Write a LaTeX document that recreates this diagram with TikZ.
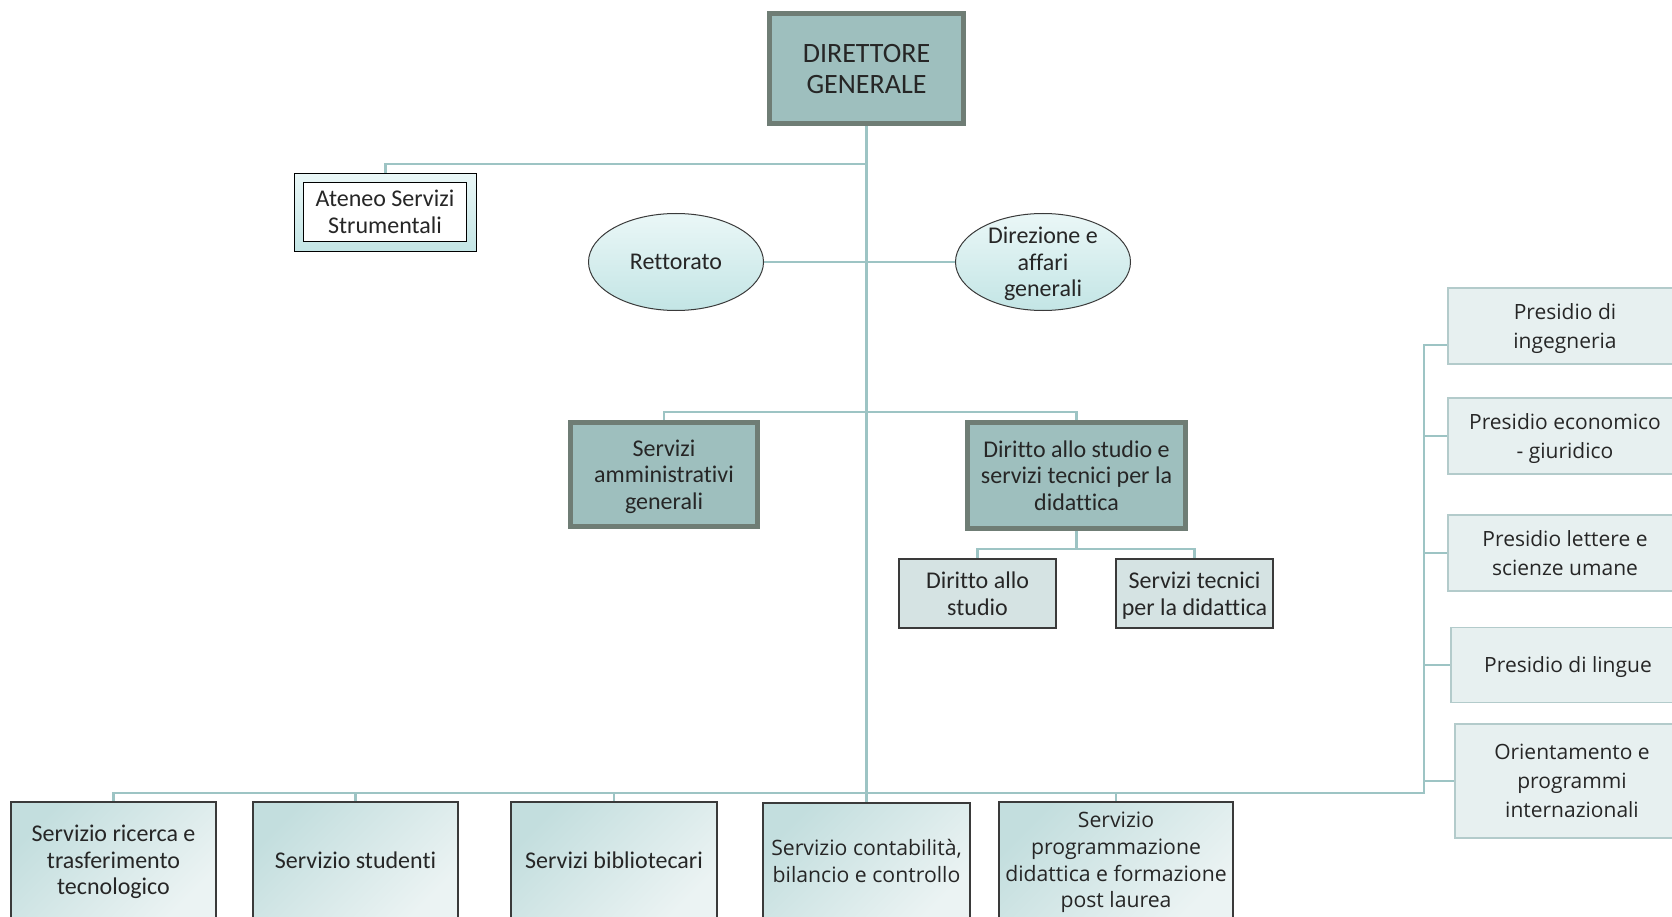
\documentclass[tikz,border=0pt]{standalone}
\usepackage{fontspec}
\setmainfont{Carlito}[Ligatures=NoCommon]
\newfontfamily\segoe{Open Sans}
\usepackage{tikz}
\usetikzlibrary{calc,shapes.geometric,backgrounds}

\definecolor{linea}{HTML}{9DC4C4}
\definecolor{verdecapo}{HTML}{9EBFBE}
\definecolor{bordo}{HTML}{6F7D75}
\definecolor{scuro}{HTML}{3A3A3A}
\definecolor{testo}{HTML}{262626}
\definecolor{chiaro}{HTML}{D5E3E3}
\definecolor{presidio}{HTML}{E7F0F0}
\definecolor{bordopres}{HTML}{B3CBCB}
\definecolor{ovalsu}{HTML}{EAF7F7}
\definecolor{ovalgiu}{HTML}{C3E5E5}
\definecolor{basesu}{HTML}{C3DEDE}
\definecolor{basegiu}{HTML}{EBF3F3}

\begin{document}
\begin{tikzpicture}[x=1pt,y=-1pt,
        every node/.style={text=testo,align=center,inner sep=0pt,text depth=-1pt,font=\fontsize{24}{26.7}\selectfont},
        conn/.style={draw=linea,line width=2.4pt},
        capo/.style={rectangle,fill=verdecapo,draw=bordo,line width=5pt},
        ovale/.style={ellipse,draw=scuro,line width=1pt,top color=ovalsu,bottom color=ovalgiu,minimum width=175pt,minimum height=97pt},
        sotto/.style={rectangle,fill=chiaro,draw=scuro,line width=1.3pt,minimum width=157pt,minimum height=69pt},
        base/.style={rectangle,draw=scuro,line width=1.2pt,top color=basesu,bottom color=basegiu,shading angle=45,minimum height=116pt},
        segoetxt/.style={text depth=-2pt,font=\segoe\fontsize{#1}{26.7}\selectfont},
        pres/.style={rectangle,fill=presidio,draw=bordopres,line width=1.3pt,minimum width=234pt,text depth=-2pt,font=\segoe\fontsize{21}{28.8}\selectfont}]
            \useasboundingbox (0,0) rectangle (1672,917);
            \node[capo,minimum width=194pt,minimum height=110pt,font=\fontsize{28}{31}\selectfont] (dg) at (866.5,68.5) {DIRETTORE\\GENERALE};
            \node[rectangle,draw=black,line width=1.2pt,top color=ovalsu,bottom color=ovalgiu,minimum width=182pt,minimum height=78pt] (ateneo) at (385.5,212.5) {};
            \node[rectangle,draw=black,line width=1.2pt,fill=white,minimum width=163pt,minimum height=59pt] (ateneoin) at (385,212) {Ateneo Servizi\\Strumentali};
            \node[ovale] (rett) at (676,262) {Rettorato};
            \node[ovale,label={[name=dirtesto]center:Direzione e\\affari\\generali}] (dir) at (1043,262) {};
            \node[capo,minimum width=187pt,minimum height=104pt] (amm) at (664,474.5) {Servizi\\amministrativi\\generali};
            \node[capo,minimum width=218pt,minimum height=106pt] (dsd) at (1076.5,475.5) {Diritto allo studio e\\servizi tecnici per la\\didattica};
            \node[sotto] (studio) at (977.5,593.5) {Diritto allo\\studio};
            \node[sotto] (tecnici) at (1194.5,593.5) {Servizi tecnici\\per la didattica};
            % riga in basso
            \node[base,minimum width=205pt] (b1) at (113.5,860) {Servizio ricerca e\\trasferimento\\tecnologico};
            \node[base,minimum width=205pt] (b2) at (355.5,860) {Servizio studenti};
            \node[base,minimum width=206pt] (b3) at (614,860) {Servizi bibliotecari};
            \node[base,minimum width=207pt,segoetxt=21.2] (b4) at (866.5,861) {Servizio contabilità,\\bilancio e controllo};
            \node[base,minimum width=234pt,segoetxt=21.2] (b5) at (1116,860) {Servizio\\programmazione\\didattica e formazione\\post laurea};
            % presidi
            \node[pres,minimum height=76pt] (p1) at (1565,326) {Presidio di\\ingegneria};
            \node[pres,minimum height=76pt] (p2) at (1565,436) {Presidio economico\\- giuridico};
            \node[pres,minimum height=76pt] (p3) at (1565,553) {Presidio lettere e\\scienze umane};
            \node[pres,minimum height=75pt] (p4) at (1568,665) {Presidio di lingue};
            \node[pres,minimum height=114pt] (p5) at (1572,781) {Orientamento e\\programmi\\internazionali};
            \coordinate (gancio) at (866.5,164);
            \coordinate (medio) at (866.5,412);
            \coordinate (ramo) at (1076.5,549);
            \coordinate (giro) at (1424,793);
            \coordinate (cima) at (1424,345);
            \begin{scope}[on background layer]
                \draw[conn] (dg.south)--(b4.north);
                \draw[conn] (gancio)-|(ateneo.north);
                \draw[conn] (rett.east)--(dir.west);
                \draw[conn] (amm.north)|-(medio)-|(dsd.north);
                \draw[conn] (dsd.south)--(ramo);
                \draw[conn] (studio.north)|-(ramo)-|(tecnici.north);
                \draw[conn] (b1.north)|-(giro)--(cima)--(cima-|p1.west);
                \foreach \b in {b2,b3,b5}
                    \draw[conn] (\b.north)--(\b.north|-giro);
                \foreach \p in {p2,p3,p4,p5}
                    \draw[conn] (\p.west)--(\p.west-|giro);
            \end{scope}
        \end{tikzpicture}
\end{document}
